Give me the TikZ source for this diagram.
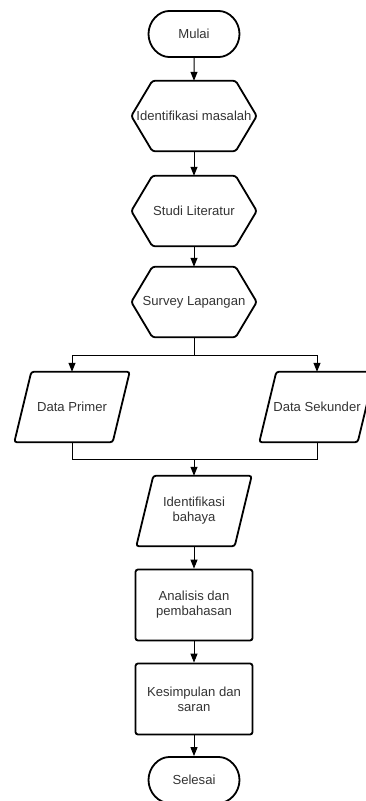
\documentclass[tikz,border=0pt]{standalone}
\usepackage{fontspec}
\setmainfont{Liberation Sans}
\usetikzlibrary{shapes.misc,arrows.meta}

\definecolor{teks}{HTML}{333333}

\tikzset{
  base/.style={text=teks, align=center, font=\fontsize{13.1}{15}\selectfont, inner sep=2pt},
  tepi/.style={draw=black, line width=1.8pt, rounded corners=2.5pt},
  terminal/.style={base, tepi, rounded rectangle, minimum width=95pt, minimum height=46pt},
  proses/.style={base, tepi, rectangle, minimum width=117pt, minimum height=71pt},
  % segi enam: badan 83pt, ujung kiri dan kanan 21pt
  persiapan/.style={base, inner xsep=-20pt, minimum width=83pt, minimum height=70pt,
    append after command={\pgfextra{\let\mainnode=\tikzlastnode
      \draw[tepi] ([xshift=-21pt]\mainnode.west) -- (\mainnode.north west)
        -- (\mainnode.north east) -- ([xshift=21pt]\mainnode.east)
        -- (\mainnode.south east) -- (\mainnode.south west) -- cycle;}}},
  % jajaran genjang: miring 17pt
  data/.style={base, inner xsep=-10pt, minimum width=98pt, minimum height=70pt,
    append after command={\pgfextra{\let\mainnode=\tikzlastnode
      \draw[tepi] ([xshift=8.5pt]\mainnode.north west) -- ([xshift=8.5pt]\mainnode.north east)
        -- ([xshift=-8.5pt]\mainnode.south east) -- ([xshift=-8.5pt]\mainnode.south west)
        -- cycle;}}},
  panah/.style={-{Triangle[length=9pt,width=7pt]}, line width=1pt},
  garis/.style={line width=1pt},
}

\begin{document}
\begin{tikzpicture}[x=1pt, y=-1pt]
    \pgfmathsetmacro{\tengah}{194}% kolom utama
    \pgfmathsetmacro{\kiri}{72}% data primer
    \pgfmathsetmacro{\kanan}{317}% data sekunder

    \useasboundingbox (0, 0) rectangle (365, 801);

    \node[terminal]  (mulai)    at (\tengah, 34)  {Mulai};
    \node[persiapan] (masalah)  at (\tengah, 116) {Identifikasi masalah};
    \node[persiapan] (studi)    at (\tengah, 211) {Studi Literatur};
    \node[persiapan] (survey)   at (\tengah, 302) {Survey Lapangan};
    \node[data]      (primer)   at (\kiri, 407)   {Data Primer};
    \node[data]      (sekunder) at (\kanan, 407)  {Data Sekunder};
    \node[data]      (bahaya)   at (\tengah, 511) {Identifikasi\\bahaya};
    \node[proses]    (analisis) at (\tengah, 605) {Analisis dan\\pembahasan};
    \node[proses]    (simpulan) at (\tengah, 699) {Kesimpulan dan\\saran};
    \node[terminal]  (selesai)  at (\tengah, 780) {Selesai};

    % titik percabangan dan penggabungan
    \coordinate (cabang) at (\tengah, 355);
    \coordinate (gabung) at (\tengah, 459);

    \draw[panah] (mulai) -- (masalah);
    \draw[panah] (masalah) -- (studi);
    \draw[panah] (studi) -- (survey);
    \draw[garis] (survey) -- (cabang);
    \draw[panah] (cabang) -| (primer);
    \draw[panah] (cabang) -| (sekunder);
    \draw[garis] (primer) |- (gabung);
    \draw[garis] (sekunder) |- (gabung);
    \draw[panah] (gabung) -- (bahaya);
    \draw[panah] (bahaya) -- (analisis);
    \draw[panah] (analisis) -- (simpulan);
    \draw[panah] (simpulan) -- (selesai);
\end{tikzpicture}
\end{document}
